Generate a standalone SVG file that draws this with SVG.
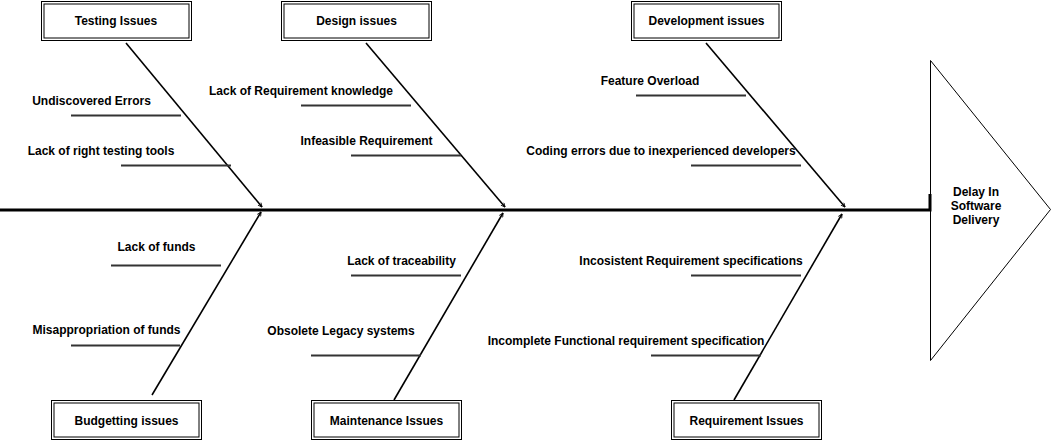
<svg xmlns="http://www.w3.org/2000/svg" width="1052" height="441" viewBox="0 0 1052 441">
<style>
text{font-family:"Liberation Sans",Arial,Helvetica,sans-serif;font-size:12px;font-weight:bold;fill:#000;text-anchor:middle}
.box{fill:#fff;stroke:#000;stroke-width:1}
.inner{fill:none;stroke:#000;stroke-width:1}
.bone{stroke:#000;stroke-width:1.6;fill:none}
.sub{stroke:#333;stroke-width:2;fill:none}
.spine{stroke:#000;stroke-width:3;fill:none}
</style>
<defs>
<marker id="open" viewBox="0 0 10 10" refX="9" refY="5" markerWidth="5" markerHeight="5" orient="auto" markerUnits="userSpaceOnUse">
<path d="M1,1 L9,5 L1,9" fill="none" stroke="#000" stroke-width="1.6"/>
</marker>
</defs>
<rect width="1052" height="441" fill="#fff"/>

<g id="head">
<path d="M930.5,60.5 L1050.5,209.5 L930.5,360.5 Z" fill="#fff" stroke="#000" stroke-width="1"/>
<text x="976" y="196.3">Delay In</text>
<text x="976" y="210.3">Software</text>
<text x="976" y="224.3">Delivery</text>
</g>

<g id="connectors">
<path class="spine" d="M0,210 L930,210 L930,194"/>
<path class="bone" d="M126,43 L262,207" marker-end="url(#open)"/>
<path class="bone" d="M366,43 L505,207" marker-end="url(#open)"/>
<path class="bone" d="M706,43 L845,207" marker-end="url(#open)"/>
<path class="bone" d="M152,395 L261,212" marker-end="url(#open)"/>
<path class="bone" d="M394,400 L503,213" marker-end="url(#open)"/>
<path class="bone" d="M734,400 L842,214" marker-end="url(#open)"/>
</g>

<g id="testing">
<rect class="box" x="41.5" y="1.5" width="150" height="39"/>
<rect class="inner" x="44" y="4" width="145" height="34"/>
<text x="116" y="24.6">Testing Issues</text>
</g>
<g id="design">
<rect class="box" x="281.5" y="1.5" width="150" height="39"/>
<rect class="inner" x="284" y="4" width="145" height="34"/>
<text x="356.5" y="24.6">Design issues</text>
</g>
<g id="development">
<rect class="box" x="631.5" y="1.5" width="150" height="39"/>
<rect class="inner" x="634" y="4" width="145" height="34"/>
<text x="706.5" y="24.6">Development issues</text>
</g>
<g id="budgetting">
<rect class="box" x="51.5" y="400.5" width="150" height="39"/>
<rect class="inner" x="54" y="403" width="145" height="34"/>
<text x="126.5" y="424.6">Budgetting issues</text>
</g>
<g id="maintenance">
<rect class="box" x="311.5" y="400.5" width="150" height="39"/>
<rect class="inner" x="314" y="403" width="145" height="34"/>
<text x="386.5" y="424.6">Maintenance Issues</text>
</g>
<g id="requirement">
<rect class="box" x="671.5" y="400.5" width="150" height="39"/>
<rect class="inner" x="674" y="403" width="145" height="34"/>
<text x="746.5" y="424.6">Requirement Issues</text>
</g>

<g id="c-undiscovered">
<text x="91.5" y="105.3">Undiscovered Errors</text>
<line class="sub" x1="71" y1="115.5" x2="181" y2="115.5"/>
</g>
<g id="c-testing-tools">
<text x="101" y="155.3">Lack of right testing tools</text>
<line class="sub" x1="121" y1="165.5" x2="231" y2="165.5"/>
</g>
<g id="c-req-knowledge">
<text x="301" y="95.3">Lack of Requirement knowledge</text>
<line class="sub" x1="301" y1="105.5" x2="411" y2="105.5"/>
</g>
<g id="c-infeasible">
<text x="366.5" y="144.6">Infeasible Requirement</text>
<line class="sub" x1="351" y1="155.5" x2="461" y2="155.5"/>
</g>
<g id="c-feature">
<text x="650" y="84.6">Feature Overload</text>
<line class="sub" x1="636" y1="95.5" x2="746" y2="95.5"/>
</g>
<g id="c-coding">
<text x="661" y="154.6">Coding errors due to inexperienced developers</text>
<line class="sub" x1="691" y1="165.5" x2="801" y2="165.5"/>
</g>
<g id="c-funds">
<text x="156.5" y="251.3">Lack of funds</text>
<line class="sub" x1="111" y1="265.5" x2="221" y2="265.5"/>
</g>
<g id="c-misappropriation">
<text x="106.5" y="334.3">Misappropriation of funds</text>
<line class="sub" x1="71" y1="345.5" x2="180" y2="345.5"/>
</g>
<g id="c-traceability">
<text x="401.5" y="264.6">Lack of traceability</text>
<line class="sub" x1="351" y1="275.5" x2="461" y2="275.5"/>
</g>
<g id="c-legacy">
<text x="341" y="334.6">Obsolete Legacy systems</text>
<line class="sub" x1="311" y1="355.5" x2="421" y2="355.5"/>
</g>
<g id="c-inconsistent">
<text x="691" y="264.6">Incosistent Requirement specifications</text>
<line class="sub" x1="691" y1="275.5" x2="801" y2="275.5"/>
</g>
<g id="c-incomplete">
<text x="626" y="344.6">Incomplete Functional requirement specification</text>
<line class="sub" x1="651" y1="355.5" x2="761" y2="355.5"/>
</g>
</svg>
